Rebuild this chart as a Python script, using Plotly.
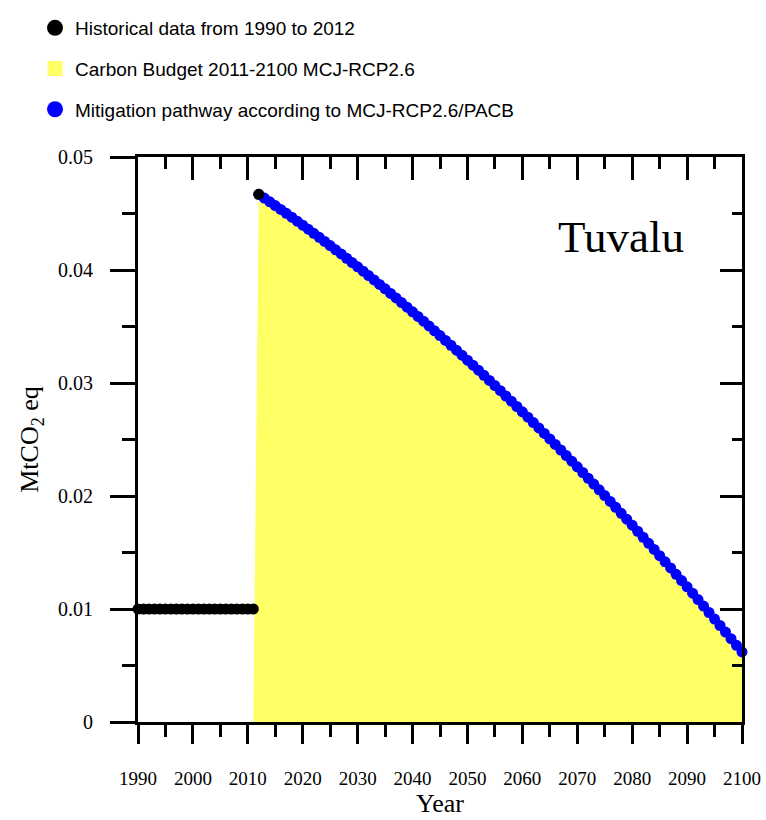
import plotly.graph_objects as go

# ---- data ----
hist_years = list(range(1990, 2013))
hist_values = [0.01] * 22 + [0.0467]

path_years = list(range(2012, 2101))
path_values = [
    0.04670, 0.04637, 0.04603, 0.04570, 0.04536, 0.04502, 0.04467, 0.04432, 0.04397, 0.04361,
    0.04325, 0.04289, 0.04253, 0.04216, 0.04179, 0.04142, 0.04104, 0.04066, 0.04028, 0.03990,
    0.03951, 0.03912, 0.03872, 0.03833, 0.03793, 0.03753, 0.03712, 0.03671, 0.03630, 0.03589,
    0.03547, 0.03505, 0.03462, 0.03420, 0.03377, 0.03334, 0.03290, 0.03246, 0.03202, 0.03158,
    0.03113, 0.03068, 0.03023, 0.02977, 0.02932, 0.02885, 0.02839, 0.02792, 0.02745, 0.02698,
    0.02650, 0.02602, 0.02554, 0.02505, 0.02456, 0.02407, 0.02358, 0.02308, 0.02258, 0.02208,
    0.02157, 0.02106, 0.02055, 0.02004, 0.01952, 0.01900, 0.01847, 0.01795, 0.01742, 0.01688,
    0.01635, 0.01581, 0.01527, 0.01472, 0.01418, 0.01363, 0.01307, 0.01252, 0.01196, 0.01140,
    0.01083, 0.01026, 0.00969, 0.00911, 0.00854, 0.00796, 0.00737, 0.00679, 0.00620,
]
budget_start_year = 2011

legend_names = [
    "Historical data from 1990 to 2012",
    "Carbon Budget 2011-2100 MCJ-RCP2.6",
    "Mitigation pathway according to MCJ-RCP2.6/PACB",
]
country = "Tuvalu"
x_ticks = list(range(1990, 2101, 10))
y_ticks = [0, 0.01, 0.02, 0.03, 0.04, 0.05]
y_ticktext = ["0", "0.01", "0.02", "0.03", "0.04", "0.05"]

YELLOW = "#FFFF66"
BLUE = "#0000FF"
BLACK = "#000000"
SERIF = "Liberation Serif"
SANS = "Liberation Sans"

fig = go.Figure()

# carbon budget area
fig.add_trace(go.Scatter(
    x=[budget_start_year] + path_years, y=[0] + path_values,
    mode="none", fill="tozeroy", fillcolor=YELLOW,
    showlegend=False, hoverinfo="skip",
))
# mitigation pathway
fig.add_trace(go.Scatter(
    x=path_years, y=path_values, mode="markers",
    marker=dict(color=BLUE, size=11, line=dict(width=0)),
    cliponaxis=False, showlegend=False,
))
# historical
fig.add_trace(go.Scatter(
    x=hist_years, y=hist_values, mode="markers",
    marker=dict(color=BLACK, size=11, line=dict(width=0)),
    cliponaxis=False, showlegend=False,
))

# legend entries
fig.add_trace(go.Scatter(x=[None], y=[None], mode="markers", name=legend_names[0],
                         marker=dict(color=BLACK, size=17), legendgroup="a", legendrank=1))
fig.add_trace(go.Scatter(x=[None], y=[None], mode="markers", name=legend_names[1],
                         marker=dict(color=YELLOW, size=15, symbol="square"),
                         legendgroup="b", legendrank=2))
fig.add_trace(go.Scatter(x=[None], y=[None], mode="markers", name=legend_names[2],
                         marker=dict(color=BLUE, size=17), legendgroup="c", legendrank=3))

# mirror axes (inside ticks on top and right)
fig.add_trace(go.Scatter(x=[None], y=[None], xaxis="x2", yaxis="y2", showlegend=False))

axis_common = dict(showline=True, linecolor=BLACK, linewidth=3, showgrid=False,
                   zeroline=False, tickcolor=BLACK, tickwidth=3)

fig.update_layout(
    width=766, height=820,
    margin=dict(l=138, r=24, t=157, b=98, autoexpand=False),
    paper_bgcolor="white", plot_bgcolor="white",
    showlegend=True,
    legend=dict(
        x=-0.1705, y=1.262, xanchor="left", yanchor="top",
        font=dict(family=SANS, size=19, color=BLACK),
        tracegroupgap=13, bgcolor="rgba(0,0,0,0)",
    ),
    xaxis=dict(
        range=[1990, 2100], tickvals=x_ticks, ticks="outside", ticklen=19, tickangle=0,
        tickfont=dict(family=SERIF, size=19, color=BLACK), ticklabelstandoff=18,
        ticklabeloverflow="allow",
        minor=dict(dtick=5, tick0=1990, ticks="outside", ticklen=12, tickwidth=3, tickcolor=BLACK),
        title=dict(text="Year", font=dict(family=SERIF, size=26, color=BLACK), standoff=4),
        automargin=False, **axis_common,
    ),
    yaxis=dict(
        range=[0, 0.05], tickvals=y_ticks, ticktext=y_ticktext,
        ticks="outside", ticklen=25,
        tickfont=dict(family=SERIF, size=20, color=BLACK), ticklabelstandoff=13,
        minor=dict(dtick=0.005, tick0=0, ticks="outside", ticklen=13, tickwidth=3, tickcolor=BLACK),
        title=dict(text="MtCO<sub>2</sub> eq", font=dict(family=SERIF, size=26, color=BLACK), standoff=12),
        automargin=False, **axis_common,
    ),
    xaxis2=dict(
        range=[1990, 2100], overlaying="x", side="top", anchor="y",
        tickvals=x_ticks, ticks="inside", ticklen=23, showticklabels=False,
        minor=dict(dtick=5, tick0=1990, ticks="inside", ticklen=12, tickwidth=3, tickcolor=BLACK),
        **axis_common,
    ),
    yaxis2=dict(
        range=[0, 0.05], overlaying="y", side="right", anchor="x",
        tickvals=y_ticks, ticks="inside", ticklen=22, showticklabels=False,
        minor=dict(dtick=0.005, tick0=0, ticks="inside", ticklen=10, tickwidth=3, tickcolor=BLACK),
        **axis_common,
    ),
    annotations=[dict(
        x=2078, y=0.0429, xref="x", yref="y", text=country, showarrow=False,
        font=dict(family=SERIF, size=45, color=BLACK),
    )],
)

fig.write_html(
    "out.html",
    config={"displayModeBar": False},
    post_script="document.body.style.margin='0';document.body.style.overflow='hidden';",
)
